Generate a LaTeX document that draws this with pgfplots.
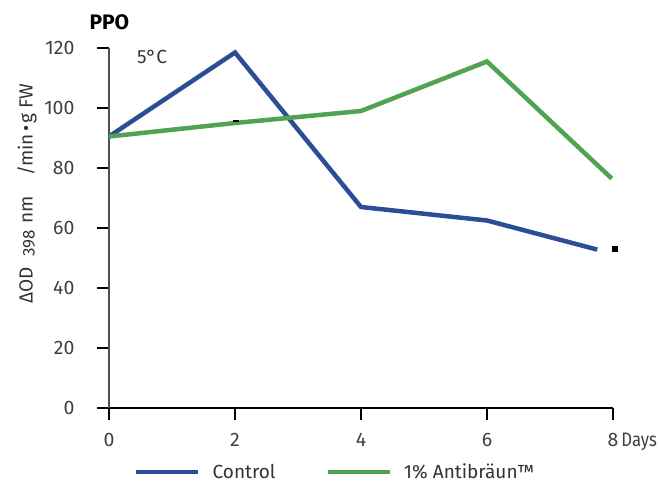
\documentclass[border=0pt]{standalone}
\usepackage{graphicx}
\usepackage{pgfplots}
\pgfplotsset{compat=1.18}
\usepackage{fontspec}
\setmainfont{Fira Sans}
\definecolor{cblue}{RGB}{44,78,150}
\definecolor{cgreen}{RGB}{80,163,80}
\definecolor{axgray}{RGB}{80,80,80}
\begin{document}
\begin{tikzpicture}
\begin{axis}[
  scale only axis, width=504pt, height=360pt,
  xmin=0, xmax=8, ymin=0, ymax=120,
  axis lines=left,
  x axis line style={-, black, line width=1.6pt},
  y axis line style={-, axgray, line width=1.6pt},
  tick align=outside,
  major tick length=12pt,
  tick style={black, line width=2.2pt},
  xtick={0,2,4,6,8},
  xticklabels={0,2,4,6,8\rlap{\kern3pt\scalebox{0.86}[1]{Days}}},
  ytick={0,20,...,120},
  /pgf/number format/assume math mode=true,
  ticklabel style={font=\fontsize{19.5}{21}\selectfont, text=black!75},
  yticklabel style={xshift=-19pt},
  xticklabel style={yshift=-10pt},
  clip=false,
  legend style={at={(rel axis cs:0.0496,-0.178)}, anchor=west, draw=none,
    inner sep=0pt, font=\fontsize{19}{21}\selectfont, text=black!80,
    nodes={inner sep=0pt}},
  legend columns=2,
  legend image code/.code={\draw[#1, line width=4.5pt] (0pt,0pt) -- (62pt,0pt);},
  /tikz/every odd column/.append style={column sep=12pt},
  /tikz/every even column/.append style={column sep=50pt},
]
\addplot[cblue, line width=4.5pt] coordinates {(0,90.5) (2,118.5) (4,67) (6,62.5) (7.75,52.8)};
\addlegendentry{Control}
\addplot[cgreen, line width=4.5pt] coordinates {(0,90.5) (2,95) (4,99) (6,115.5) (7.98,76.5)};
\addlegendentry{1\% Antibräun™}
\addplot[black, only marks, mark=square*, mark size=2.5pt, forget plot] coordinates {(8.02,53)};
\addplot[black, only marks, mark=-, mark size=3pt, mark options={line width=2pt}, forget plot] coordinates {(2.01,95.6)};
\end{axis}
\node[anchor=west, font=\fontsize{21}{23}\selectfont\bfseries] at (-23pt,385.5pt) {PPO};
\node[font=\fontsize{19}{21}\selectfont, text=black!80] at (43pt,351.5pt) {5°C};
\node[rotate=90, font=\fontsize{19}{21}\selectfont, text=black!80, inner sep=0pt] at (-82pt,214.5pt)
  {ΔOD\kern10pt\raisebox{-2pt}{\fontsize{17}{18}\selectfont 398}\kern7pt nm\kern20pt/min\kern2pt•\kern2pt g FW};
\path[use as bounding box] (-109pt,-75pt) rectangle (550pt,408pt);
\end{tikzpicture}
\end{document}
